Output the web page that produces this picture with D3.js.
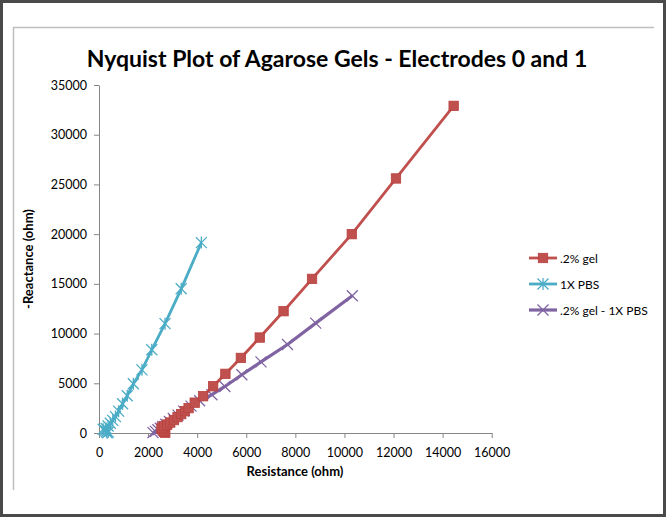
<!DOCTYPE html>
<html>
<head>
<meta charset="utf-8">
<script src="https://cdn.jsdelivr.net/npm/d3@7"></script>
<style>
  html,body{margin:0;padding:0;background:#fff;}
  svg{display:block;font-family:Lato,"Open Sans",sans-serif;}
</style>
</head>
<body>
<div id="chart"></div>
<script>
// Nyquist-Plot, drei Serien, Excel-Optik
const seriesNames = [".2% gel", "1X PBS", ".2% gel - 1X PBS"];
const gel = [
  [2700,30],[2650,120],[2600,250],[2550,400],[2560,550],[2650,700],[2780,850],[2900,1050],
  [3050,1300],[3200,1600],[3350,1900],[3500,2200],[3650,2500],[3900,3050],[4240,3700],
  [4650,4700],[5150,5950],[5780,7550],[6550,9600],[7520,12250],[8680,15500],
  [10300,20000],[12100,25600],[14450,32900]
];
const pbs = [
  [330,30],[380,90],[300,160],[250,260],[170,380],[290,450],[370,700],[460,980],
  [560,1270],[670,1650],[800,2200],[960,2950],[1150,3750],[1400,4950],[1750,6350],
  [2150,8370],[2690,11000],[3350,14500],[4170,19150]
];
const diff = [
  [2200,40],[2300,160],[2400,320],[2500,470],[2600,650],[2720,880],[2870,1150],
  [3030,1450],[3220,1800],[3450,2200],[3750,2700],[4100,3250],[4600,3850],
  [5130,4680],[5820,5860],[6600,7150],[7680,8900],[8830,11050],[10320,13800]
];
const xTicks = [0,2000,4000,6000,8000,10000,12000,14000,16000];
const yTicks = [0,5000,10000,15000,20000,25000,30000,35000];
const colors = ["#C0504D","#4BACC6","#8064A2"];

const W = 666, H = 517;
const m = {l:99, r:175, t:85, b:84};
const svg = d3.select("#chart").append("svg").attr("width",W).attr("height",H);

// Rahmen
svg.append("rect").attr("x",1.5).attr("y",1.5).attr("width",W-3).attr("height",H-3)
  .attr("fill","#fff").attr("stroke","#4a4a4a").attr("stroke-width",3);
svg.append("path").attr("d","M13.5,490 V27.5 H654").attr("fill","none")
  .attr("stroke","#bfbfbf").attr("stroke-width",1.5);

const x = d3.scaleLinear().domain([0,16000]).range([m.l, W-m.r+0.7]);
const y = d3.scaleLinear().domain([0,35000]).range([H-m.b, m.t]);

svg.append("text").attr("x",337).attr("y",67).attr("text-anchor","middle")
  .attr("font-size",23).attr("font-weight","bold").attr("fill","#000")
  .text("Nyquist Plot of Agarose Gels - Electrodes 0 and 1");

// Achsen
const fmt = d3.format("d");
const ax = svg.append("g").attr("transform",`translate(0,${y(0)})`)
  .call(d3.axisBottom(x).tickValues(xTicks).tickFormat(fmt).tickSize(5).tickSizeOuter(0).tickPadding(6));
const ay = svg.append("g").attr("transform",`translate(${x(0)},0)`)
  .call(d3.axisLeft(y).tickValues(yTicks).tickFormat(fmt).tickSize(5).tickSizeOuter(0).tickPadding(7));
[ax,ay].forEach(g=>{
  g.selectAll("path,line").attr("stroke","#868686");
  g.selectAll("text").attr("font-size",12.5).attr("fill","#000").attr("font-family","Lato,sans-serif");
});
ax.selectAll("text").attr("dy","1em");

svg.append("text").attr("x",295).attr("y",476).attr("text-anchor","middle")
  .attr("font-size",13).attr("font-weight","bold").text("Resistance (ohm)");
svg.append("text").attr("transform","translate(33,259) rotate(-90)").attr("text-anchor","middle")
  .attr("font-size",13).attr("font-weight","bold").text("-Reactance (ohm)");

const line = d3.line().x(d=>x(d[0])).y(d=>y(d[1]));

function marker(g, type, color){
  if(type===0){
    g.append("rect").attr("x",-4.7).attr("y",-4.7).attr("width",9.4).attr("height",9.4)
      .attr("fill",color).attr("stroke","#b8413e").attr("stroke-width",0.8);
  } else if(type===1){
    g.append("path").attr("d","M-5.5,-5.5L5.5,5.5M-5.5,5.5L5.5,-5.5M0,-6V6")
      .attr("stroke",color).attr("stroke-width",1.3).attr("fill","none");
  } else {
    g.append("path").attr("d","M-5.5,-5.5L5.5,5.5M-5.5,5.5L5.5,-5.5")
      .attr("stroke",color).attr("stroke-width",1.3).attr("fill","none");
  }
}

const all = [gel, pbs, diff];
const widths = [2.8, 2.8, 3.2];
[2,0,1].forEach(i=>{
  const g = svg.append("g");
  g.append("path").datum(all[i]).attr("d",line).attr("fill","none")
    .attr("stroke",colors[i]).attr("stroke-width",widths[i]).attr("stroke-linejoin","round");
  all[i].forEach(d=>{
    marker(g.append("g").attr("transform",`translate(${x(d[0])},${y(d[1])})`), i, colors[i]);
  });
});

// Legende
const leg = svg.append("g").attr("transform","translate(529,258)");
seriesNames.forEach((n,i)=>{
  const r = leg.append("g").attr("transform",`translate(0,${i*26})`);
  r.append("line").attr("x1",0).attr("x2",28).attr("stroke",colors[i]).attr("stroke-width",widths[i]);
  marker(r.append("g").attr("transform","translate(14,0)"), i, colors[i]);
  r.append("text").attr("x",31).attr("y",4.5).attr("font-size",12).attr("fill","#000").text(n);
});
</script>
</body>
</html>
